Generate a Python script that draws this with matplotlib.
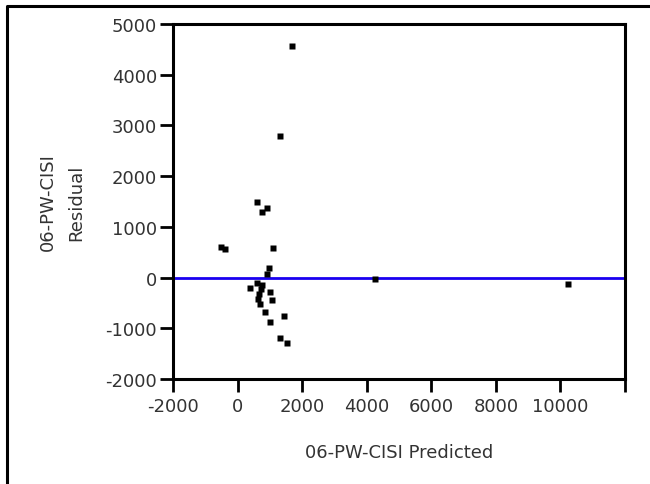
import matplotlib
matplotlib.use("Agg")
import matplotlib.pyplot as plt
from matplotlib.lines import Line2D

## residual plot data
predicted = [1680, 1300, 600, 900, 760, -500, -400, 1100, 970, 900,
             380, 590, 760, 660, 1000, 1070, 690, 840, 1000, 1430,
             1310, 1540, 4270, 10230, 720, 640]
residual = [4570, 2800, 1490, 1370, 1290, 600, 560, 590, 190, 70,
            -200, -110, -140, -320, -290, -440, -520, -680, -880, -760,
            -1190, -1290, -30, -120, -230, -420]

x_ticks = [-2000, 0, 2000, 4000, 6000, 8000, 10000, 12000]
x_labels = ['-2000', '0', '2000', '4000', '6000', '8000', '10000', '']
y_ticks = [-2000, -1000, 0, 1000, 2000, 3000, 4000, 5000]

plt.rcParams['font.family'] = ['DejaVu Sans']
plt.rcParams['axes.unicode_minus'] = False

fig = plt.figure(figsize=(6.5, 4.85), dpi=100)
ax = fig.add_axes([0.2662, 0.2165, 0.6954, 0.732])

ax.axhline(0, color='#1a00f0', lw=2, zorder=2)
ax.plot(predicted, residual, 's', color='black', ms=5, mec='none', zorder=3)

ax.set_xlim(-2000, 12000)
ax.set_ylim(-2000, 5000)
ax.set_xticks(x_ticks, x_labels)
ax.set_yticks(y_ticks)

for s in ax.spines.values():
    s.set_linewidth(2.2)
    s.set_color('black')
ax.tick_params(direction='out', length=9.5, width=2, labelsize=13,
               labelcolor='#333333')
ax.tick_params(axis='x', pad=3.5)
ax.tick_params(axis='y', pad=2)

ax.set_xlabel('06-PW-CISI Predicted', fontsize=13, color='#333333')
ax.xaxis.set_label_coords(0.5, -0.18)
ax.set_ylabel('06-PW-CISI\nResidual', fontsize=13, color='#333333',
              linespacing=1.7)
ax.yaxis.set_label_coords(-0.195, 0.5)

# outer frame, left and top edges only are in view
fx = 7 / 650
fy = 1 - 7 / 485
fig.add_artist(Line2D([fx, fx, 1], [0, fy, fy], transform=fig.transFigure,
                      color='black', lw=2.2))

fig.savefig('out.png', dpi=100)
